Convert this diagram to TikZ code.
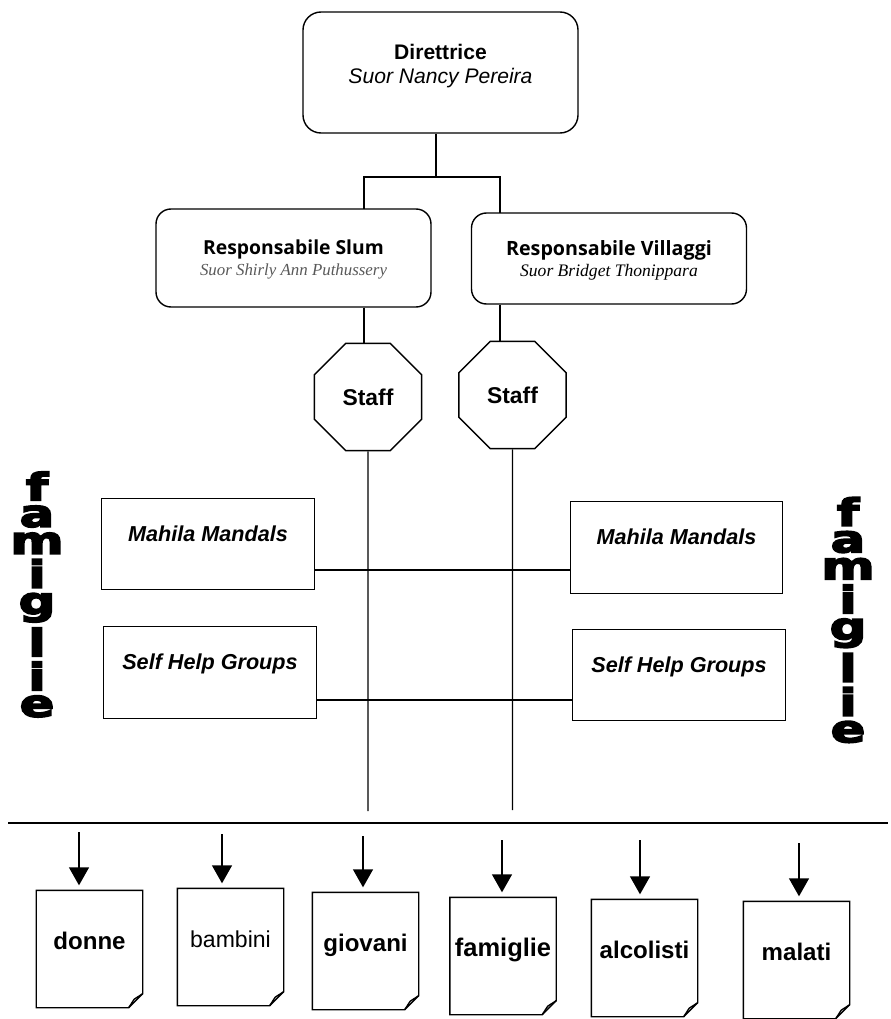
\documentclass[tikz,border=0pt]{standalone}
\usepackage{fontspec}
\usepackage{graphicx}
\setmainfont{Liberation Sans}
\newfontfamily\titlefont{Open Sans}
\newfontfamily\namefont{Liberation Serif}
\newfontfamily\heavyfont[FakeBold=4]{DejaVu Sans}
\usetikzlibrary{arrows.meta,shapes.geometric}
\tikzset{
	>={Triangle[length=0.36cm,width=0.4cm]},
}

\begin{document}
\begin{tikzpicture}[line width=0.8pt,
headbox/.style = {draw, rounded corners=0.36cm, minimum width=5.5cm, minimum height=2.42cm, align=center, inner sep=0, font=\fontsize{12}{14.2}\selectfont},
leadbox/.style = {draw, rounded corners=0.3cm, minimum width=5.5cm, align=center, inner sep=0, font=\fontsize{11}{11.4}\selectfont},
staffbox/.style = {draw, regular polygon, regular polygon sides=8, minimum size=2.32cm, inner sep=0, font=\fontsize{13}{14}\selectfont\bfseries},
groupbox/.style = {draw, minimum width=4.25cm, minimum height=1.83cm, inner sep=0, text height=0.28cm, text depth=0.4cm, font=\fontsize{12.3}{14}\selectfont\bfseries\itshape},
paper/.style = {minimum width=2.1cm, minimum height=2.32cm, inner sep=0, text height=0.36cm, text depth=0.34cm, font=\fontsize{13.7}{16}\selectfont},
vtext/.style = {inner sep=0, font=\fontsize{21.5}{21.5}\heavyfont\bfseries}]
\useasboundingbox (0,0) rectangle (17.8,-20.38);

% direzione
\node[headbox, text height=0.56cm, text depth=0.1cm] (dir) at (8.81,-1.45) {\textbf{Direttrice}\\ \textit{Suor Nancy Pereira}};
\node[leadbox, minimum height=1.96cm, text height=0.78cm, text depth=0.1cm] (slum) at (5.87,-5.16) {{\titlefont\bfseries Responsabile Slum}\\ {\namefont\itshape\fontsize{9.6}{9.6}\selectfont\color{black!65} Suor Shirly Ann Puthussery}};
\node[leadbox, minimum height=1.82cm, text height=0.8cm, text depth=0.1cm] (vill) at (12.18,-5.17) {{\titlefont\bfseries\fontsize{11.2}{11.4}\selectfont Responsabile Villaggi}\\ {\namefont\itshape\fontsize{10}{10}\selectfont Suor Bridget Thonippara}};
\node[staffbox] (staffL) at (7.36,-7.94) {Staff};
\node[staffbox] (staffR) at (10.25,-7.9) {Staff};

\coordinate (fork) at (8.72,-3.54);
\coordinate (slumin) at (7.28,-4.18);
\coordinate (villin) at (10.0,-4.26);
\draw (fork |- dir.south) -- (fork) -| (slumin);
\draw (fork) -| (villin);
\draw (slumin |- slum.south) -- (slumin |- staffL.north);
\draw (villin |- vill.south) -- (villin |- staffR.north);

% gruppi
\node[groupbox] (mmL) at (4.16,-10.88) {Mahila Mandals};
\node[groupbox] (mmR) at (13.53,-10.95) {Mahila Mandals};
\node[groupbox] (shgL) at (4.2,-13.45) {Self Help Groups};
\node[groupbox] (shgR) at (13.58,-13.5) {Self Help Groups};
\coordinate (mmbus) at ([yshift=-0.52cm]mmL.east);
\draw (mmbus) -- (mmbus -| mmR.west);
\coordinate (shgbus) at ([yshift=-0.55cm]shgL.east);
\draw (shgbus) -- (shgbus -| shgR.west);

\node[vtext] (famL) at (0.74,-11.89) {\scalebox{1.35}[1]{\shortstack{f\\a\\m\\i\\g\\l\\i\\e}}};
\node[vtext] (famR) at (16.96,-12.4) {\scalebox{1.35}[1]{\shortstack{f\\a\\m\\i\\g\\l\\i\\e}}};

% linee dello staff
\coordinate (stopL) at (7.36,-16.22);
\coordinate (stopR) at (10.25,-16.2);
\draw (staffL.south) -- (stopL);
\draw (staffR.south) -- (stopR);
\coordinate (baseL) at (0.16,-16.46);
\coordinate (baseR) at (17.76,-16.46);
\draw (baseL) -- (baseR);

% destinatari
\foreach \doc/\txt/\x/\y/\ax/\ay in {
	donne/{\bfseries donne}/1.79/-18.98/1.58/-16.64,
	bambini/{\fontsize{13.1}{16}\selectfont bambini}/4.61/-18.94/4.44/-16.68,
	giovani/{\bfseries giovani}/7.31/-19.02/7.26/-16.72,
	famiglie/{\fontsize{14.5}{16}\selectfont\bfseries famiglie}/10.06/-19.12/10.04/-16.8,
	alcolisti/{\bfseries alcolisti}/12.89/-19.16/12.8/-16.8,
	malati/{\bfseries malati}/15.93/-19.2/15.98/-16.86}
{
	\node[paper] (\doc) at (\x,\y) {\txt};
	\draw (\doc.north west) -- (\doc.north east) -- ([yshift=0.28cm]\doc.south east) -- ([xshift=-0.28cm]\doc.south east) -- (\doc.south west) -- cycle;
	\draw ([yshift=0.28cm]\doc.south east) -- ([shift={(-0.17cm,0.17cm)}]\doc.south east) -- ([xshift=-0.28cm]\doc.south east);
	\coordinate (\doc-in) at (\ax,\ay);
	\draw[->, shorten >=0.1cm] (\doc-in) -- (\doc-in |- \doc.north);
}
\end{tikzpicture}
\end{document}
